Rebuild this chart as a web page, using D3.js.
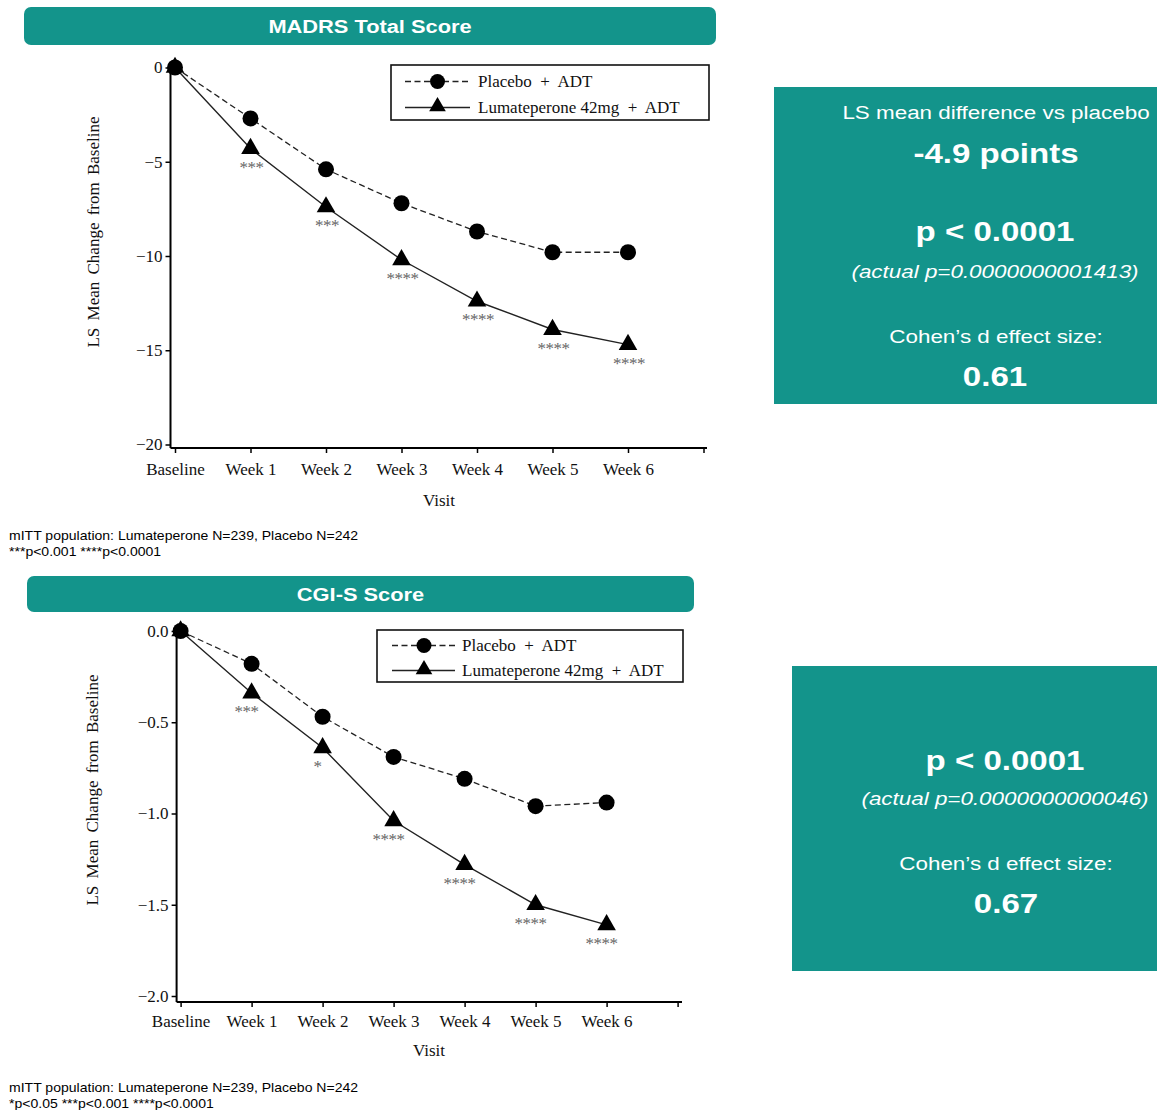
<!DOCTYPE html>
<html>
<head>
<meta charset="utf-8">
<script src="https://cdn.jsdelivr.net/npm/d3@7"></script>
<style>
  html, body { margin: 0; padding: 0; background: #fff; }
  svg { display: block; }
  .serif { font-family: "Liberation Serif", "Times New Roman", serif; }
  .sans { font-family: "Liberation Sans", Arial, sans-serif; }
</style>
</head>
<body>
<svg id="chart" width="1163" height="1110"></svg>
<script>
// ---------- DATA ----------
const visits = ["Baseline", "Week 1", "Week 2", "Week 3", "Week 4", "Week 5", "Week 6"];
const seriesNames = ["Placebo  +  ADT", "Lumateperone 42mg  +  ADT"];

// MADRS Total Score (LS mean change from baseline)
const madrsPlacebo = [0, -2.7, -5.4, -7.2, -8.7, -9.8, -9.8];
const madrsLumateperone = [0, -4.3, -7.4, -10.2, -12.4, -13.9, -14.7];
const madrsStars = ["", "***", "***", "****", "****", "****", "****"];
const madrsYTicks = [0, -5, -10, -15, -20];

// CGI-S Score (LS mean change from baseline)
const cgisPlacebo = [0, -0.18, -0.47, -0.69, -0.81, -0.96, -0.94];
const cgisLumateperone = [0, -0.34, -0.64, -1.04, -1.28, -1.50, -1.61];
const cgisStars = ["", "***", "*", "****", "****", "****", "****"];
const cgisYTicks = [0, -0.5, -1.0, -1.5, -2.0];

// Text panels
const madrsPanel = ["LS mean difference vs placebo", "-4.9 points", "p < 0.0001", "(actual p=0.0000000001413)", "Cohen\u2019s d effect size:", "0.61"];
const cgisPanel = ["p < 0.0001", "(actual p=0.0000000000046)", "Cohen\u2019s d effect size:", "0.67"];
const footN = "mITT population: Lumateperone N=239, Placebo N=242";
const madrsFoot = "***p<0.001 ****p<0.0001";
const cgisFoot = "*p<0.05 ***p<0.001 ****p<0.0001";

// ---------- DRAWING ----------
const TEAL = "#13948b";
const svg = d3.select("#chart");

function stretchedText(g, x, y, txt, size, weight, style, sx) {
  g.append("text")
    .attr("class", "sans")
    .attr("transform", `translate(${x},${y}) scale(${sx},1)`)
    .attr("text-anchor", "middle")
    .attr("dominant-baseline", "central")
    .attr("font-size", size)
    .attr("font-weight", weight)
    .attr("font-style", style)
    .attr("fill", "#fff")
    .text(txt);
}

function header(x0, y0, w, h, title) {
  svg.append("rect").attr("x", x0).attr("y", y0).attr("width", w).attr("height", h)
    .attr("rx", 7).attr("fill", TEAL);
  stretchedText(svg, x0 + w / 2, y0 + h / 2 + 1, title, 18.5, "bold", "normal", 1.18);
}

function footnote(y, lines) {
  lines.forEach((t, i) => {
    svg.append("text").attr("class", "sans")
      .attr("transform", `translate(9,${y + i * 15.5}) scale(1.17,1)`)
      .attr("dominant-baseline", "central")
      .attr("font-size", 12).attr("fill", "#000")
      .text(t);
  });
}

function drawChart(cfg) {
  const g = svg.append("g");
  const cats = visits.concat([" "]);
  const x = d3.scalePoint().domain(cats).range([cfg.x0, cfg.x1]);
  const y = d3.scaleLinear().domain([cfg.yMin, 0]).range([cfg.yBottom, cfg.yTop]);

  // y axis
  const yAxis = d3.axisLeft(y).tickValues(cfg.yTicks).tickSize(5).tickPadding(3)
    .tickFormat(cfg.yFormat);
  const ya = g.append("g").attr("transform", `translate(${cfg.axisX},0)`).call(yAxis);
  ya.select(".domain").remove();
  ya.selectAll(".tick line").attr("stroke", "#000").attr("stroke-width", 1.5);
  ya.selectAll(".tick text").attr("class", "serif").attr("font-size", 17).attr("fill", "#111");

  // x axis
  const xAxis = d3.axisBottom(x).tickSize(5).tickPadding(cfg.xPad);
  const xa = g.append("g").attr("transform", `translate(0,${cfg.axisY})`).call(xAxis);
  xa.select(".domain").remove();
  xa.selectAll(".tick line").attr("stroke", "#000").attr("stroke-width", 1.5);
  xa.selectAll(".tick text").attr("class", "serif").attr("font-size", 17).attr("fill", "#111");

  // axis lines
  g.append("line").attr("x1", cfg.axisX).attr("x2", cfg.axisX)
    .attr("y1", cfg.yTop - 5).attr("y2", cfg.axisY)
    .attr("stroke", "#000").attr("stroke-width", 2);
  g.append("line").attr("x1", cfg.axisX).attr("x2", cfg.axisXEnd)
    .attr("y1", cfg.axisY).attr("y2", cfg.axisY)
    .attr("stroke", "#000").attr("stroke-width", 2);

  // axis titles
  g.append("text").attr("class", "serif")
    .attr("transform", `translate(${cfg.yLabelX},${cfg.yLabelY}) rotate(-90)`)
    .attr("text-anchor", "middle").attr("dominant-baseline", "central")
    .attr("font-size", 17).attr("word-spacing", 3).attr("fill", "#111")
    .text("LS Mean Change from Baseline");
  g.append("text").attr("class", "serif")
    .attr("x", cfg.xLabelX).attr("y", cfg.xLabelY)
    .attr("text-anchor", "middle").attr("dominant-baseline", "central")
    .attr("font-size", 17).attr("fill", "#111")
    .text("Visit");

  const line = d3.line().x((d, i) => x(visits[i])).y(d => y(d));

  // placebo dashed line
  g.append("path").datum(cfg.placebo).attr("d", line)
    .attr("fill", "none").attr("stroke", "#222").attr("stroke-width", 1.3)
    .attr("stroke-dasharray", "6,3.5");
  // lumateperone solid line
  g.append("path").datum(cfg.luma).attr("d", line)
    .attr("fill", "none").attr("stroke", "#222").attr("stroke-width", 1.4);

  // markers
  g.selectAll(".pc").data(cfg.placebo).enter().append("circle")
    .attr("cx", (d, i) => x(visits[i])).attr("cy", d => y(d)).attr("r", 8).attr("fill", "#000");
  const tri = d3.symbol().type(d3.symbolTriangle).size(150);
  g.selectAll(".lt").data(cfg.luma).enter().append("path")
    .attr("d", tri)
    .attr("transform", (d, i) => `translate(${x(visits[i])},${y(d)})`)
    .attr("fill", "#000");

  // significance stars
  g.selectAll(".st").data(cfg.luma).enter().append("text")
    .attr("class", "serif")
    .attr("x", (d, i) => x(visits[i]) + cfg.starDx)
    .attr("y", d => y(d) + 24)
    .attr("text-anchor", "middle")
    .attr("font-size", 17).attr("fill", "#666").attr("letter-spacing", -0.5)
    .text((d, i) => cfg.stars[i]);

  // legend
  const L = cfg.legend;
  g.append("rect").attr("x", L.x).attr("y", L.y).attr("width", L.w).attr("height", L.h)
    .attr("fill", "#fff").attr("stroke", "#111").attr("stroke-width", 1.6);
  const rows = [L.y + L.r1, L.y + L.r2];
  g.append("line").attr("x1", L.lx0).attr("x2", L.lx1).attr("y1", rows[0]).attr("y2", rows[0])
    .attr("stroke", "#222").attr("stroke-width", 1.3).attr("stroke-dasharray", "6,3.5");
  g.append("circle").attr("cx", L.mx).attr("cy", rows[0]).attr("r", 7.5).attr("fill", "#000");
  g.append("line").attr("x1", L.lx0).attr("x2", L.lx1).attr("y1", rows[1]).attr("y2", rows[1])
    .attr("stroke", "#222").attr("stroke-width", 1.4);
  g.append("path").attr("d", d3.symbol().type(d3.symbolTriangle).size(120))
    .attr("transform", `translate(${L.mx},${rows[1] - 1})`).attr("fill", "#000");
  seriesNames.forEach((s, i) => {
    g.append("text").attr("class", "serif")
      .attr("x", L.tx).attr("y", rows[i])
      .attr("dominant-baseline", "central")
      .attr("font-size", 17).attr("fill", "#111")
      .style("white-space", "pre")
      .text(s);
  });
}

// ---- Top: MADRS ----
header(24, 7, 692, 38, "MADRS Total Score");
drawChart({
  placebo: madrsPlacebo, luma: madrsLumateperone, stars: madrsStars,
  yMin: -20, yTicks: madrsYTicks, yFormat: d3.format("d"),
  x0: 175, x1: 703.5, yTop: 67.5, yBottom: 444.5,
  axisX: 170.5, axisY: 448, axisXEnd: 707, xPad: 10,
  yLabelX: 93, yLabelY: 232, xLabelX: 439, xLabelY: 500,
  starDx: 1,
  legend: { x: 391, y: 65, w: 318, h: 55, r1: 16.5, r2: 42.5, lx0: 405, lx1: 470, mx: 437.5, tx: 478 }
});
footnote(536, [footN, madrsFoot]);

// right panel 1
svg.append("rect").attr("x", 774).attr("y", 87).attr("width", 383).attr("height", 317).attr("fill", TEAL);
const p1 = svg.append("g");
stretchedText(p1, 996, 112, madrsPanel[0], 19, "normal", "normal", 1.18);
stretchedText(p1, 996, 153, madrsPanel[1], 28, "bold", "normal", 1.18);
stretchedText(p1, 995, 231, madrsPanel[2], 28, "bold", "normal", 1.18);
stretchedText(p1, 995, 271, madrsPanel[3], 19, "normal", "italic", 1.18);
stretchedText(p1, 996, 336, madrsPanel[4], 19, "normal", "normal", 1.18);
stretchedText(p1, 995, 376, madrsPanel[5], 28, "bold", "normal", 1.18);

// ---- Bottom: CGI-S ----
header(27, 576, 667, 36, "CGI-S Score");
drawChart({
  placebo: cgisPlacebo, luma: cgisLumateperone, stars: cgisStars,
  yMin: -2, yTicks: cgisYTicks, yFormat: d3.format(".1f"),
  x0: 180.6, x1: 677.6, yTop: 631, yBottom: 996,
  axisX: 176.6, axisY: 1002, axisXEnd: 682, xPad: 8,
  yLabelX: 92, yLabelY: 790, xLabelX: 429, xLabelY: 1050,
  starDx: -5,
  legend: { x: 377, y: 630, w: 306, h: 52, r1: 15.5, r2: 40.5, lx0: 392, lx1: 455, mx: 424, tx: 462 }
});
footnote(1088, [footN, cgisFoot]);

// right panel 2
svg.append("rect").attr("x", 792).attr("y", 666).attr("width", 365).attr("height", 305).attr("fill", TEAL);
const p2 = svg.append("g");
stretchedText(p2, 1005, 760, cgisPanel[0], 28, "bold", "normal", 1.18);
stretchedText(p2, 1005, 798, cgisPanel[1], 19, "normal", "italic", 1.18);
stretchedText(p2, 1006, 863, cgisPanel[2], 19, "normal", "normal", 1.18);
stretchedText(p2, 1006, 903, cgisPanel[3], 28, "bold", "normal", 1.18);
</script>
</body>
</html>
